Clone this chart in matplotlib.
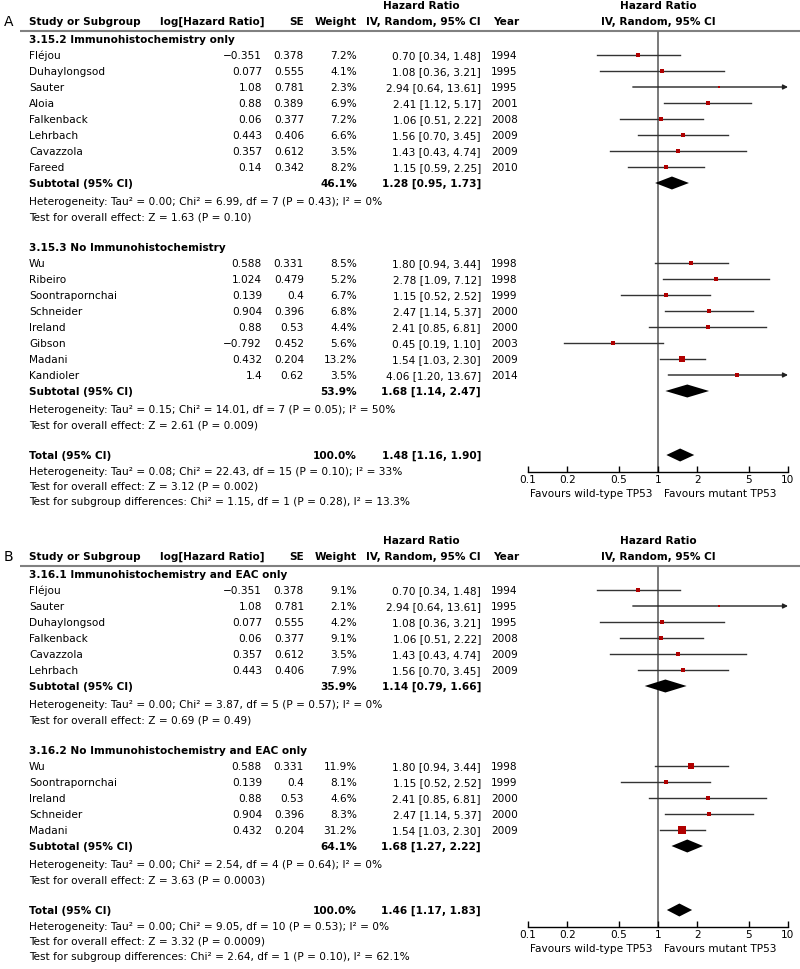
import matplotlib
matplotlib.use('Agg')
import matplotlib.pyplot as plt
from matplotlib.ticker import NullLocator

FS = 7.6
RED = '#b00000'
GRAY = '#808080'

# ---- Panel A data ----
a1_label = '3.15.2 Immunohistochemistry only'
a1_names = ['Fléjou', 'Duhaylongsod', 'Sauter', 'Aloia', 'Falkenback', 'Lehrbach', 'Cavazzola', 'Fareed']
a1_loghr = [-0.351, 0.077, 1.08, 0.88, 0.06, 0.443, 0.357, 0.14]
a1_se = [0.378, 0.555, 0.781, 0.389, 0.377, 0.406, 0.612, 0.342]
a1_w = [7.2, 4.1, 2.3, 6.9, 7.2, 6.6, 3.5, 8.2]
a1_hr = [0.70, 1.08, 2.94, 2.41, 1.06, 1.56, 1.43, 1.15]
a1_lo = [0.34, 0.36, 0.64, 1.12, 0.51, 0.70, 0.43, 0.59]
a1_hi = [1.48, 3.21, 13.61, 5.17, 2.22, 3.45, 4.74, 2.25]
a1_year = [1994, 1995, 1995, 2001, 2008, 2009, 2009, 2010]
a1_sub = [46.1, 1.28, 0.95, 1.73]
a1_het = 'Heterogeneity: Tau² = 0.00; Chi² = 6.99, df = 7 (P = 0.43); I² = 0%'
a1_test = 'Test for overall effect: Z = 1.63 (P = 0.10)'

a2_label = '3.15.3 No Immunohistochemistry'
a2_names = ['Wu', 'Ribeiro', 'Soontrapornchai', 'Schneider', 'Ireland', 'Gibson', 'Madani', 'Kandioler']
a2_loghr = [0.588, 1.024, 0.139, 0.904, 0.88, -0.792, 0.432, 1.4]
a2_se = [0.331, 0.479, 0.4, 0.396, 0.53, 0.452, 0.204, 0.62]
a2_w = [8.5, 5.2, 6.7, 6.8, 4.4, 5.6, 13.2, 3.5]
a2_hr = [1.80, 2.78, 1.15, 2.47, 2.41, 0.45, 1.54, 4.06]
a2_lo = [0.94, 1.09, 0.52, 1.14, 0.85, 0.19, 1.03, 1.20]
a2_hi = [3.44, 7.12, 2.52, 5.37, 6.81, 1.10, 2.30, 13.67]
a2_year = [1998, 1998, 1999, 2000, 2000, 2003, 2009, 2014]
a2_sub = [53.9, 1.68, 1.14, 2.47]
a2_het = 'Heterogeneity: Tau² = 0.15; Chi² = 14.01, df = 7 (P = 0.05); I² = 50%'
a2_test = 'Test for overall effect: Z = 2.61 (P = 0.009)'

a_total = [100.0, 1.48, 1.16, 1.90]
a_notes = ['Heterogeneity: Tau² = 0.08; Chi² = 22.43, df = 15 (P = 0.10); I² = 33%',
           'Test for overall effect: Z = 3.12 (P = 0.002)',
           'Test for subgroup differences: Chi² = 1.15, df = 1 (P = 0.28), I² = 13.3%']

# ---- Panel B data ----
b1_label = '3.16.1 Immunohistochemistry and EAC only'
b1_names = ['Fléjou', 'Sauter', 'Duhaylongsod', 'Falkenback', 'Cavazzola', 'Lehrbach']
b1_loghr = [-0.351, 1.08, 0.077, 0.06, 0.357, 0.443]
b1_se = [0.378, 0.781, 0.555, 0.377, 0.612, 0.406]
b1_w = [9.1, 2.1, 4.2, 9.1, 3.5, 7.9]
b1_hr = [0.70, 2.94, 1.08, 1.06, 1.43, 1.56]
b1_lo = [0.34, 0.64, 0.36, 0.51, 0.43, 0.70]
b1_hi = [1.48, 13.61, 3.21, 2.22, 4.74, 3.45]
b1_year = [1994, 1995, 1995, 2008, 2009, 2009]
b1_sub = [35.9, 1.14, 0.79, 1.66]
b1_het = 'Heterogeneity: Tau² = 0.00; Chi² = 3.87, df = 5 (P = 0.57); I² = 0%'
b1_test = 'Test for overall effect: Z = 0.69 (P = 0.49)'

b2_label = '3.16.2 No Immunohistochemistry and EAC only'
b2_names = ['Wu', 'Soontrapornchai', 'Ireland', 'Schneider', 'Madani']
b2_loghr = [0.588, 0.139, 0.88, 0.904, 0.432]
b2_se = [0.331, 0.4, 0.53, 0.396, 0.204]
b2_w = [11.9, 8.1, 4.6, 8.3, 31.2]
b2_hr = [1.80, 1.15, 2.41, 2.47, 1.54]
b2_lo = [0.94, 0.52, 0.85, 1.14, 1.03]
b2_hi = [3.44, 2.52, 6.81, 5.37, 2.30]
b2_year = [1998, 1999, 2000, 2000, 2009]
b2_sub = [64.1, 1.68, 1.27, 2.22]
b2_het = 'Heterogeneity: Tau² = 0.00; Chi² = 2.54, df = 4 (P = 0.64); I² = 0%'
b2_test = 'Test for overall effect: Z = 3.63 (P = 0.0003)'

b_total = [100.0, 1.46, 1.17, 1.83]
b_notes = ['Heterogeneity: Tau² = 0.00; Chi² = 9.05, df = 10 (P = 0.53); I² = 0%',
           'Test for overall effect: Z = 3.32 (P = 0.0009)',
           'Test for subgroup differences: Chi² = 2.64, df = 1 (P = 0.10), I² = 62.1%']

ticks = [0.1, 0.2, 0.5, 1, 2, 5, 10]
tick_labels = ['0.1', '0.2', '0.5', '1', '2', '5', '10']

# column positions (pixels)
X_NAME, X_LOG, X_SE, X_W, X_CI, X_YEAR = 29, 262, 304, 357, 481, 491
FX0, FX1 = 528, 788

fig = plt.figure(figsize=(8, 9.7), dpi=100)
bg = fig.add_axes([0, 0, 1, 1])
bg.set_xlim(0, 800)
bg.set_ylim(970, 0)
bg.axis('off')


def txt(x, y, s, ha='left', bold=False, size=FS):
    bg.text(x, y, s, ha=ha, va='center', fontsize=size,
            fontweight='bold' if bold else 'normal', color='black')


def num(v):
    return f'{v:g}'.replace('-', '\u2212')


def ci(hr, lo, hi):
    return f'{hr:.2f} [{lo:.2f}, {hi:.2f}]'


def diamond(ax, y, vals):
    _, hr, lo, hi = vals
    ax.fill([lo, hr, hi, hr], [y, y - 6.5, y, y + 6.5], color='black', lw=0, zorder=4)


def panel(letter, top, groups, total, notes):
    y_head = top + 16
    y_line = top + 26
    txt(4, y_head, letter, size=10)
    txt(421, top, 'Hazard Ratio', ha='center', bold=True)
    txt(658, top, 'Hazard Ratio', ha='center', bold=True)
    txt(X_NAME, y_head, 'Study or Subgroup', bold=True)
    txt(264, y_head, 'log[Hazard Ratio]', ha='right', bold=True)
    txt(X_SE, y_head, 'SE', ha='right', bold=True)
    txt(X_W, y_head, 'Weight', ha='right', bold=True)
    txt(X_CI, y_head, 'IV, Random, 95% CI', ha='right', bold=True)
    txt(X_YEAR + 2, y_head, 'Year', bold=True)
    txt(658, y_head, 'IV, Random, 95% CI', ha='center', bold=True)
    bg.plot([20, 800], [y_line, y_line], color=GRAY, lw=1.5, solid_capstyle='butt')

    marks = []
    y = y_line + 8
    for label, names, lhr, se, w, hr, lo, hi, yrs, sub, het, test in groups:
        txt(X_NAME, y, label, bold=True)
        y += 16
        for i in range(len(names)):
            txt(X_NAME, y, names[i])
            txt(X_LOG, y, num(lhr[i]), ha='right')
            txt(X_SE, y, num(se[i]), ha='right')
            txt(X_W, y, f'{w[i]:.1f}%', ha='right')
            txt(X_CI, y, ci(hr[i], lo[i], hi[i]), ha='right')
            txt(X_YEAR, y, str(yrs[i]))
            marks.append(('study', y, w[i], hr[i], lo[i], hi[i]))
            y += 16
        txt(X_NAME, y, 'Subtotal (95% CI)', bold=True)
        txt(X_W, y, f'{sub[0]:.1f}%', ha='right', bold=True)
        txt(X_CI, y, ci(*sub[1:]), ha='right', bold=True)
        marks.append(('diamond', y, sub))
        y += 18
        txt(X_NAME, y, het)
        y += 16
        txt(X_NAME, y, test)
        y += 30
    txt(X_NAME, y, 'Total (95% CI)', bold=True)
    txt(X_W, y, f'{total[0]:.1f}%', ha='right', bold=True)
    txt(X_CI, y, ci(*total[1:]), ha='right', bold=True)
    marks.append(('diamond', y, total))
    y_axis = y + 16.5
    for k, note in enumerate(notes):
        txt(X_NAME, y + 16 + 15 * k, note)

    ax = fig.add_axes([FX0 / 800, 1 - y_axis / 970, (FX1 - FX0) / 800, (y_axis - y_line) / 970])
    ax.set_xscale('log')
    ax.set_xlim(0.1, 10)
    ax.set_ylim(y_axis, y_line)
    ax.patch.set_alpha(0)
    for s in ['left', 'right', 'top']:
        ax.spines[s].set_visible(False)
    ax.spines['bottom'].set_linewidth(1.0)
    ax.set_yticks([])
    ax.set_xticks(ticks)
    ax.set_xticklabels(tick_labels)
    ax.xaxis.set_minor_locator(NullLocator())
    ax.tick_params(axis='x', direction='in', length=4, width=1, pad=2, labelsize=FS)
    ax.axvline(1, color='#6e6e6e', lw=1.3, zorder=1)
    for m in marks:
        if m[0] == 'study':
            _, yy, w, hr, lo, hi = m
            if hi > 10:
                ax.annotate('', xy=(10, yy), xytext=(lo, yy), zorder=2,
                            arrowprops=dict(arrowstyle='-|>', color='#222222', lw=1.0,
                                            mutation_scale=7, shrinkA=0, shrinkB=0))
            else:
                ax.plot([lo, hi], [yy, yy], color='#333333', lw=1.0, zorder=2)
            ax.scatter([hr], [yy], s=1.0 * w + 2, marker='s', color=RED, lw=0, zorder=5)
        else:
            diamond(ax, m[1], m[2])
    fav_y = y_axis + 22
    txt(653, fav_y, 'Favours wild-type TP53', ha='right')
    txt(664, fav_y, 'Favours mutant TP53')


panel('A', 6, [
    (a1_label, a1_names, a1_loghr, a1_se, a1_w, a1_hr, a1_lo, a1_hi, a1_year, a1_sub, a1_het, a1_test),
    (a2_label, a2_names, a2_loghr, a2_se, a2_w, a2_hr, a2_lo, a2_hi, a2_year, a2_sub, a2_het, a2_test),
], a_total, a_notes)

panel('B', 541, [
    (b1_label, b1_names, b1_loghr, b1_se, b1_w, b1_hr, b1_lo, b1_hi, b1_year, b1_sub, b1_het, b1_test),
    (b2_label, b2_names, b2_loghr, b2_se, b2_w, b2_hr, b2_lo, b2_hi, b2_year, b2_sub, b2_het, b2_test),
], b_total, b_notes)

fig.savefig('out.png', dpi=100, facecolor='white')
